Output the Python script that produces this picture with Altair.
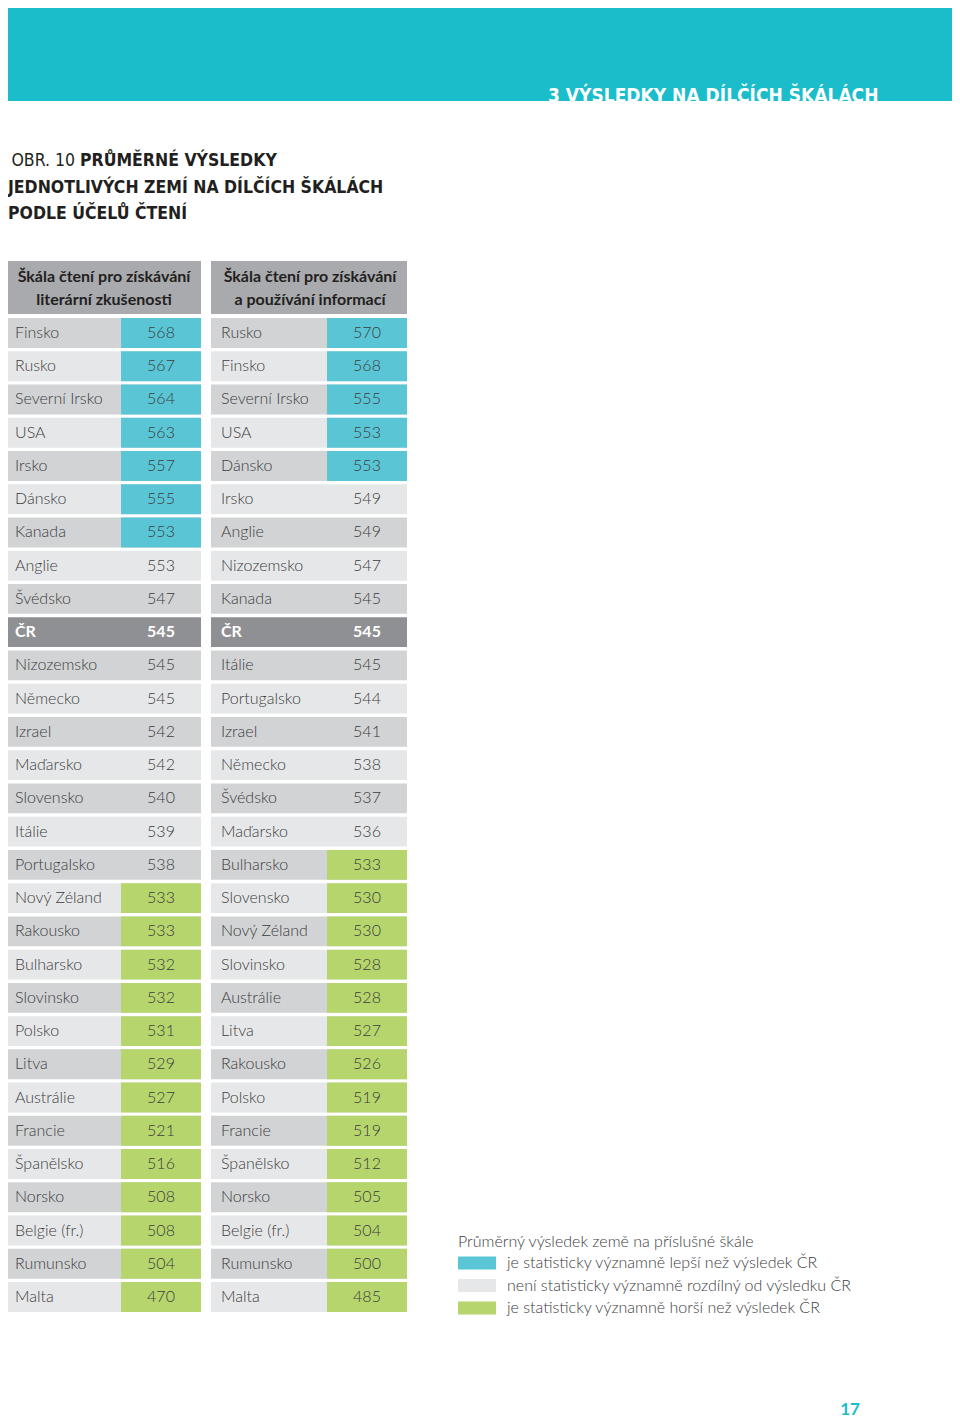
import altair as alt
import pandas as pd

# ---------------- data ----------------
countries_lit = ["Finsko", "Rusko", "Severní Irsko", "USA", "Irsko", "Dánsko", "Kanada", "Anglie",
                 "Švédsko", "ČR", "Nizozemsko", "Německo", "Izrael", "Maďarsko", "Slovensko", "Itálie",
                 "Portugalsko", "Nový Zéland", "Rakousko", "Bulharsko", "Slovinsko", "Polsko", "Litva",
                 "Austrálie", "Francie", "Španělsko", "Norsko", "Belgie (fr.)", "Rumunsko", "Malta"]
scores_lit = [568, 567, 564, 563, 557, 555, 553, 553, 547, 545, 545, 545, 542, 542, 540, 539,
              538, 533, 533, 532, 532, 531, 529, 527, 521, 516, 508, 508, 504, 470]
status_lit = ["lepší"] * 7 + ["nerozdílný"] * 2 + ["ČR"] + ["nerozdílný"] * 7 + ["horší"] * 13

countries_inf = ["Rusko", "Finsko", "Severní Irsko", "USA", "Dánsko", "Irsko", "Anglie", "Nizozemsko",
                 "Kanada", "ČR", "Itálie", "Portugalsko", "Izrael", "Německo", "Švédsko", "Maďarsko",
                 "Bulharsko", "Slovensko", "Nový Zéland", "Slovinsko", "Austrálie", "Litva", "Rakousko",
                 "Polsko", "Francie", "Španělsko", "Norsko", "Belgie (fr.)", "Rumunsko", "Malta"]
scores_inf = [570, 568, 555, 553, 553, 549, 549, 547, 545, 545, 545, 544, 541, 538, 537, 536,
              533, 530, 530, 528, 528, 527, 526, 519, 519, 512, 505, 504, 500, 485]
status_inf = ["lepší"] * 5 + ["nerozdílný"] * 4 + ["ČR"] + ["nerozdílný"] * 6 + ["horší"] * 14

header_lit = ["Škála čtení pro získávání", "literární zkušenosti"]
header_inf = ["Škála čtení pro získávání", "a používání informací"]

banner_text = "3  VÝSLEDKY NA DÍLČÍCH ŠKÁLÁCH"
title_prefix = "OBR. 10"
title_lines = ["PRŮMĚRNÉ VÝSLEDKY", "JEDNOTLIVÝCH ZEMÍ NA DÍLČÍCH ŠKÁLÁCH", "PODLE ÚČELŮ ČTENÍ"]

legend_title = "Průměrný výsledek země na příslušné škále"
legend_status = ["lepší", "nerozdílný", "horší"]
legend_labels = ["je statisticky významně lepší než výsledek ČR",
                 "není statisticky významně rozdílný od výsledku ČR",
                 "je statisticky významně horší než výsledek ČR"]
page_number = "17"

# ---------------- styles ----------------
TEAL_BANNER = "#1bbdca"
TEAL = "#5ac6d5"
GREEN = "#b6d56c"
DARK_ROW = "#d1d3d4"
LIGHT_ROW = "#e6e7e8"
CR_ROW = "#8f9093"
HEADER = "#a8aaad"
TXT = "#3d3d3f"
TITLE_FONT = "DejaVu Sans Condensed, Liberation Sans Narrow, Liberation Sans, sans-serif"
BODY_FONT = "Lato"
FS = 16

W, H = 944, 1415


def table_df(countries, scores, status):
    return pd.DataFrame({
        "rank": list(range(1, len(countries) + 1)),
        "country": countries,
        "score": [str(s) for s in scores],
        "status": status,
    })


yscale = alt.Scale(domain=list(range(1, 31)), range=[310, 1304], paddingInner=0.1, paddingOuter=0)
Y = alt.Y("rank:O", scale=yscale, axis=None)


def const_text(text, x, y, **kw):
    return alt.Chart(pd.DataFrame({"t": [text]})).mark_text(**kw).encode(
        x=alt.value(x), y=alt.value(y), text="t:N")


def const_rect(x, x2, y, y2, color):
    return alt.Chart(pd.DataFrame({"a": [0]})).mark_rect(color=color).encode(
        x=alt.value(x), x2=alt.value(x2), y=alt.value(y), y2=alt.value(y2))


def table_layers(df, header, x0):
    lw, tw = 116, 196
    base = alt.Chart(df)
    layers = []
    # header
    layers.append(const_rect(x0, x0 + tw, 253, 306, HEADER))
    layers.append(const_text(header[0], x0 + tw / 2 + 1, 269, font=BODY_FONT, fontSize=16,
                             fontWeight="bold", color="#231f20", align="center", baseline="middle"))
    layers.append(const_text(header[1], x0 + tw / 2 + 1, 292, font=BODY_FONT, fontSize=16,
                             fontWeight="bold", color="#231f20", align="center", baseline="middle"))
    # row backgrounds
    layers.append(base.mark_rect().encode(
        x=alt.value(x0), x2=alt.value(x0 + tw), y=Y,
        fill=alt.when(alt.datum.status == "ČR").then(alt.value(CR_ROW))
        .when(alt.datum.rank % 2 == 1).then(alt.value(DARK_ROW))
        .otherwise(alt.value(LIGHT_ROW))))
    # value cells (significant difference)
    layers.append(base.transform_filter(
        (alt.datum.status == "lepší") | (alt.datum.status == "horší")).mark_rect().encode(
        x=alt.value(x0 + lw), x2=alt.value(x0 + tw), y=Y,
        fill=alt.when(alt.datum.status == "lepší").then(alt.value(TEAL)).otherwise(alt.value(GREEN))))
    normal = base.transform_filter(alt.datum.status != "ČR")
    cr = base.transform_filter(alt.datum.status == "ČR")
    layers.append(normal.mark_text(font=BODY_FONT, fontSize=FS, fontWeight=300, color=TXT,
                                   align="left", baseline="middle").encode(
        x=alt.value(x0 + 10), y=Y, text="country:N"))
    layers.append(normal.mark_text(font=BODY_FONT, fontSize=FS, fontWeight=300, color=TXT,
                                   align="center", baseline="middle").encode(
        x=alt.value(x0 + 156), y=Y, text="score:N"))
    layers.append(cr.mark_text(font=BODY_FONT, fontSize=FS, fontWeight="bold", color="white",
                               align="left", baseline="middle").encode(
        x=alt.value(x0 + 10), y=Y, text="country:N"))
    layers.append(cr.mark_text(font=BODY_FONT, fontSize=FS, fontWeight="bold", color="white",
                               align="center", baseline="middle").encode(
        x=alt.value(x0 + 156), y=Y, text="score:N"))
    return layers


layers = []
# banner
layers.append(const_rect(0, W, 0, 93, TEAL_BANNER))
layers.append(const_text(banner_text, 540, 94, font=TITLE_FONT, fontSize=19, fontWeight="bold",
                         color="white", align="left", baseline="alphabetic"))
# title
layers.append(const_text(title_prefix, 67, 153, font=TITLE_FONT, fontSize=17.5, color="#231f20",
                         align="right", baseline="middle"))
layers.append(const_text(title_lines[0], 72, 153, font=TITLE_FONT, fontSize=17.5, fontWeight="bold",
                         color="#231f20", align="left", baseline="middle"))
layers.append(const_text(title_lines[1], 0, 180, font=TITLE_FONT, fontSize=17.5, fontWeight="bold",
                         color="#231f20", align="left", baseline="middle"))
layers.append(const_text(title_lines[2], 0, 206, font=TITLE_FONT, fontSize=17.5, fontWeight="bold",
                         color="#231f20", align="left", baseline="middle"))

layers += table_layers(table_df(countries_lit, scores_lit, status_lit), header_lit, -3)
layers += table_layers(table_df(countries_inf, scores_inf, status_inf), header_inf, 203)

# legend
leg_colors = {"lepší": TEAL, "nerozdílný": LIGHT_ROW, "horší": GREEN}
layers.append(const_text(legend_title, 450, 1234, font=BODY_FONT, fontSize=FS, fontWeight=300,
                         color=TXT, align="left", baseline="middle"))
for i, (st, lab) in enumerate(zip(legend_status, legend_labels)):
    cy = 1255 + i * 22.5
    layers.append(const_rect(450, 488, cy - 6.5, cy + 6.5, leg_colors[st]))
    layers.append(const_text(lab, 499, cy, font=BODY_FONT, fontSize=FS, fontWeight=300,
                             color=TXT, align="left", baseline="middle"))

# page number
layers.append(const_text(page_number, 842, 1402, font=BODY_FONT, fontSize=17, fontWeight="bold",
                         color=TEAL_BANNER, align="center", baseline="middle"))

chart = alt.layer(*layers).properties(
    width=W, height=H, autosize="none", padding=0
).configure_view(stroke=None)

chart.save("out.html", embed_options={"renderer": "svg", "actions": False})
